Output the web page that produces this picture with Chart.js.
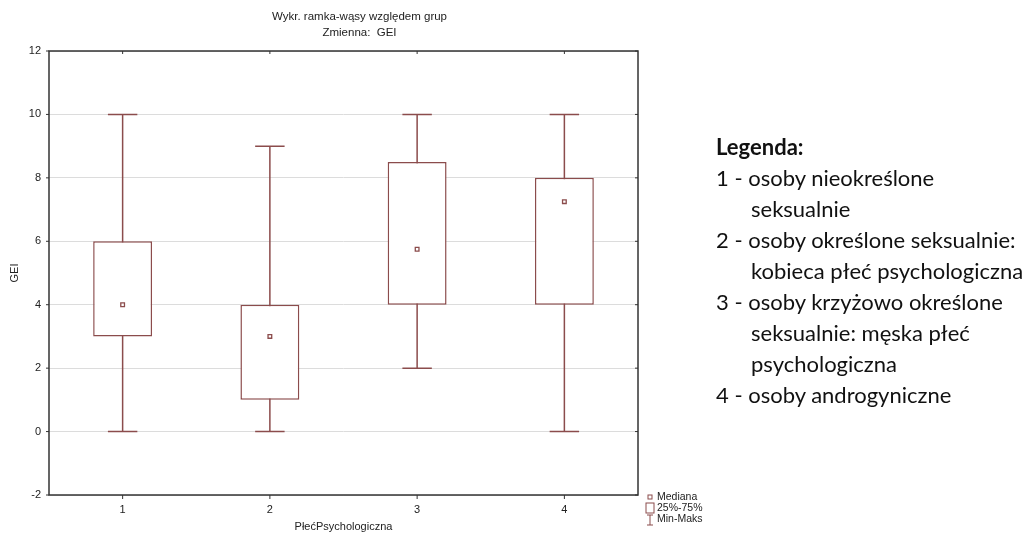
<!DOCTYPE html>
<html>
<head>
<meta charset="utf-8">
<script src="https://cdn.jsdelivr.net/npm/chart.js@4"></script>
<style>
  html, body { margin: 0; padding: 0; background: #fff; }
  #wrap { position: relative; width: 1033px; height: 534px; }
  #legend {
    position: absolute; left: 716px; top: 131px;
    font-family: Lato, "Open Sans", sans-serif;
    font-size: 22px; line-height: 31px; color: #111;
    white-space: nowrap;
  }
  #legend .ind { padding-left: 35px; }
</style>
</head>
<body>
<div id="wrap">
  <canvas id="box" width="1033" height="534"></canvas>
  <div id="legend">
    <div><b>Legenda:</b></div>
    <div>1 - osoby nieokreślone</div>
    <div class="ind">seksualnie</div>
    <div>2 - osoby określone seksualnie:</div>
    <div class="ind">kobieca płeć psychologiczna</div>
    <div>3 - osoby krzyżowo określone</div>
    <div class="ind">seksualnie: męska płeć</div>
    <div class="ind">psychologiczna</div>
    <div>4 - osoby androgyniczne</div>
  </div>
</div>
<script>
const groups = ['1', '2', '3', '4'];
const minVals = [0, 0, 2, 0];
const q1Vals = [3, 1, 4, 4];
const medians = [4, 3, 5.75, 7.25];
const q3Vals = [6, 4, 8.5, 8];
const maxVals = [10, 9, 10, 10];
const titleLines = ['Wykr. ramka-wąsy względem grup', 'Zmienna:  GEI'];

const boxColor = '#8b4c4c';
const axisFont = '"Liberation Sans", Arial, sans-serif';

// whiskers, frame, title and the small key, placed through the chart scales
const boxExtras = {
    id: 'boxExtras',
    beforeDatasetsDraw(chart) {
        const {ctx, scales: {x, y}} = chart;
        const half = x.width / groups.length * 0.4 / 4;
        ctx.save();
        ctx.strokeStyle = boxColor;
        ctx.lineWidth = 1.5;
        groups.forEach((g, i) => {
            const cx = x.getPixelForValue(i);
            const yMin = y.getPixelForValue(minVals[i]);
            const yMax = y.getPixelForValue(maxVals[i]);
            ctx.beginPath();
            ctx.moveTo(cx, yMin); ctx.lineTo(cx, yMax);
            ctx.moveTo(cx - half, yMin); ctx.lineTo(cx + half, yMin);
            ctx.moveTo(cx - half, yMax); ctx.lineTo(cx + half, yMax);
            ctx.stroke();
        });
        ctx.restore();
    },
    afterDraw(chart) {
        const {ctx, chartArea: a, scales: {x, y}} = chart;
        ctx.save();
        ctx.strokeStyle = '#333';
        ctx.lineWidth = 1.5;
        ctx.strokeRect(a.left, a.top, a.right - a.left, a.bottom - a.top);
        // short ticks on the frame
        ctx.lineWidth = 1;
        ctx.beginPath();
        groups.forEach((g, i) => {
            const px = x.getPixelForValue(i);
            ctx.moveTo(px, a.top); ctx.lineTo(px, a.top + 3);
            ctx.moveTo(px, a.bottom); ctx.lineTo(px, a.bottom + 4);
        });
        y.ticks.forEach(t => {
            const py = y.getPixelForValue(t.value);
            ctx.moveTo(a.left - 3, py); ctx.lineTo(a.left, py);
            ctx.moveTo(a.right - 3, py); ctx.lineTo(a.right, py);
        });
        ctx.stroke();

        // title, a bit right of the plot centre like the original
        ctx.fillStyle = '#222';
        ctx.font = '11.5px ' + axisFont;
        ctx.textAlign = 'center';
        ctx.textBaseline = 'middle';
        const tx = (a.left + a.right) / 2 + 16;
        ctx.fillText(titleLines[0], tx, 17);
        ctx.fillText(titleLines[1], tx, 33);

        // small key
        const kx = a.right + 8;
        ctx.textAlign = 'left';
        ctx.strokeStyle = boxColor;
        ctx.font = '10.5px ' + axisFont;
        ctx.strokeRect(kx + 2, a.bottom + 0, 4, 4);
        ctx.fillText('Mediana', kx + 11, a.bottom + 2);
        ctx.strokeRect(kx, a.bottom + 8, 8, 10);
        ctx.fillText('25%-75%', kx + 11, a.bottom + 13);
        ctx.beginPath();
        ctx.moveTo(kx + 1, a.bottom + 20); ctx.lineTo(kx + 7, a.bottom + 20);
        ctx.moveTo(kx + 4, a.bottom + 20); ctx.lineTo(kx + 4, a.bottom + 30);
        ctx.moveTo(kx + 1, a.bottom + 30); ctx.lineTo(kx + 7, a.bottom + 30);
        ctx.stroke();
        ctx.fillText('Min-Maks', kx + 11, a.bottom + 24);
        ctx.restore();
    }
};

const boxConfig = {
    type: 'bar',
    data: {
        labels: groups,
        datasets: [
            {
                label: '25%-75%',
                data: q1Vals.map((q, i) => [q, q3Vals[i]]),
                backgroundColor: '#ffffff',
                borderColor: boxColor,
                borderWidth: 1.5,
                borderSkipped: false,
                barPercentage: 0.4,
                categoryPercentage: 1,
                order: 2,
            },
            {
                type: 'line',
                label: 'Mediana',
                data: medians,
                showLine: false,
                pointStyle: 'rect',
                pointRadius: 2.6,
                pointBackgroundColor: '#ffffff',
                pointBorderColor: boxColor,
                pointBorderWidth: 1.3,
                order: 1,
            }
        ],
    },
    options: {
        responsive: false,
        animation: false,
        layout: { padding: { left: 0, right: 395, top: 51, bottom: 0 } },
        plugins: {
            legend: { display: false },
            tooltip: { enabled: false },
            title: { display: false },
        },
        scales: {
            x: {
                grid: { display: false, drawTicks: false },
                border: { display: false },
                ticks: { color: '#222', padding: 8, font: { family: axisFont, size: 11 } },
                title: {
                    display: true, text: 'PłećPsychologiczna', color: '#222',
                    font: { family: axisFont, size: 11 },
                    padding: { top: 2, bottom: 0 },
                },
                afterFit(s) { s.height = 39; },
            },
            y: {
                min: -2,
                max: 12,
                ticks: { stepSize: 2, color: '#222', padding: 8, font: { family: axisFont, size: 11 } },
                grid: { color: '#dcdcdc', drawTicks: false },
                border: { display: false },
                title: {
                    display: true, text: 'GEI', color: '#222',
                    font: { family: axisFont, size: 11 },
                    padding: { top: 8, bottom: 0 },
                },
                afterFit(s) { s.width = 49; },
            },
        },
    },
    plugins: [boxExtras],
};

const boxEl = document.getElementById('box');
window.myBox = new Chart(boxEl, boxConfig);
</script>
</body>
</html>
